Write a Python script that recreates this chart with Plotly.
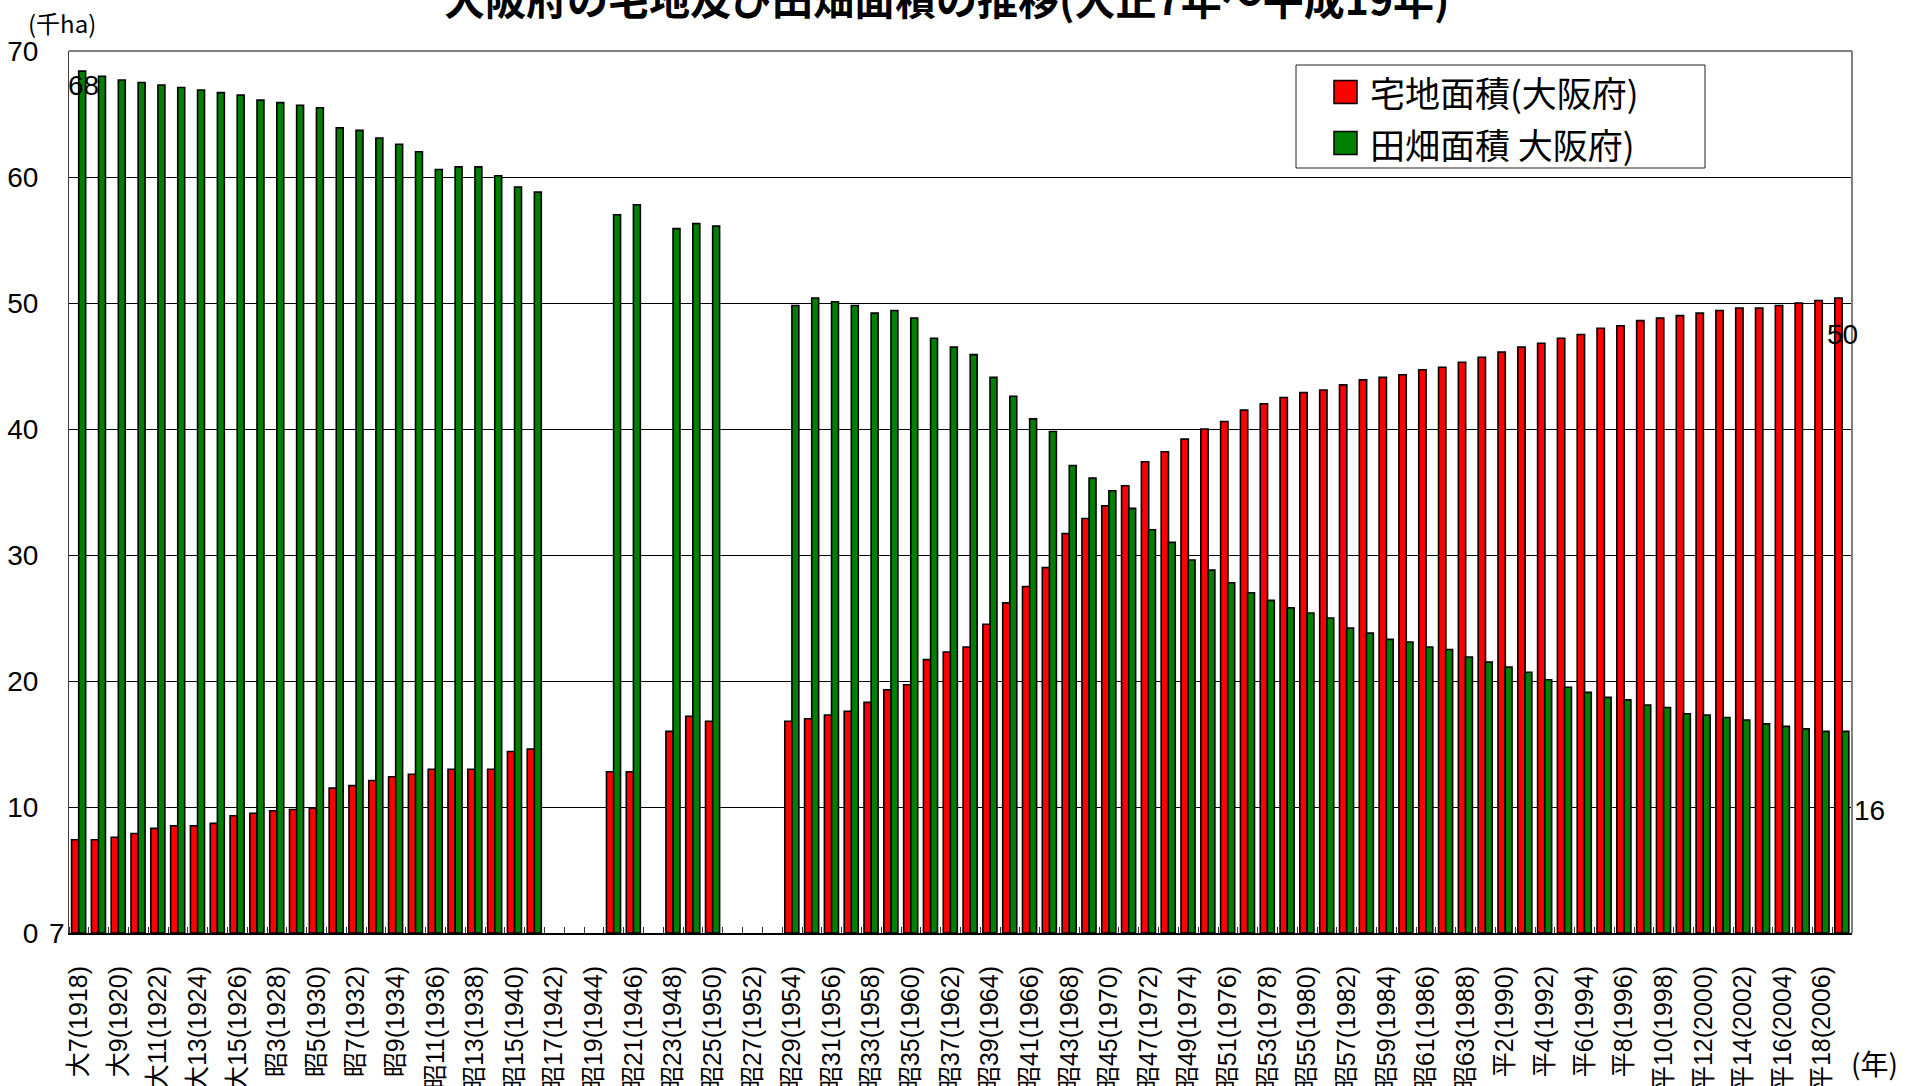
import plotly.graph_objects as go

# ---- data ----
years = [1918, 1919, 1920, 1921, 1922, 1923, 1924, 1925, 1926, 1927, 1928, 1929,
         1930, 1931, 1932, 1933, 1934, 1935, 1936, 1937, 1938, 1939, 1940, 1941,
         1945, 1946, 1948, 1949, 1950,
         1954, 1955, 1956, 1957, 1958, 1959, 1960, 1961, 1962, 1963, 1964, 1965,
         1966, 1967, 1968, 1969, 1970, 1971, 1972, 1973, 1974, 1975, 1976, 1977,
         1978, 1979, 1980, 1981, 1982, 1983, 1984, 1985, 1986, 1987, 1988, 1989,
         1990, 1991, 1992, 1993, 1994, 1995, 1996, 1997, 1998, 1999, 2000, 2001,
         2002, 2003, 2004, 2005, 2006, 2007]

# 宅地面積 (千ha)
housing = [7.4, 7.4, 7.6, 7.9, 8.3, 8.5, 8.5, 8.7, 9.3, 9.5, 9.7, 9.8,
           9.9, 11.5, 11.7, 12.1, 12.4, 12.6, 13.0, 13.0, 13.0, 13.0, 14.4, 14.6,
           12.8, 12.8, 16.0, 17.2, 16.8,
           16.8, 17.0, 17.3, 17.6, 18.3, 19.3, 19.7, 21.7, 22.3, 22.7, 24.5, 26.2,
           27.5, 29.0, 31.7, 32.9, 33.9, 35.5, 37.4, 38.2, 39.2, 40.0, 40.6, 41.5,
           42.0, 42.5, 42.9, 43.1, 43.5, 43.9, 44.1, 44.3, 44.7, 44.9, 45.3, 45.7,
           46.1, 46.5, 46.8, 47.2, 47.5, 48.0, 48.2, 48.6, 48.8, 49.0, 49.2, 49.4,
           49.6, 49.6, 49.8, 50.0, 50.2, 50.4]

# 田畑面積 (千ha)
farmland = [68.4, 68.0, 67.7, 67.5, 67.3, 67.1, 66.9, 66.7, 66.5, 66.1, 65.9, 65.7,
            65.5, 63.9, 63.7, 63.1, 62.6, 62.0, 60.6, 60.8, 60.8, 60.1, 59.2, 58.8,
            57.0, 57.8, 55.9, 56.3, 56.1,
            49.8, 50.4, 50.1, 49.8, 49.2, 49.4, 48.8, 47.2, 46.5, 45.9, 44.1, 42.6,
            40.8, 39.8, 37.1, 36.1, 35.1, 33.7, 32.0, 31.0, 29.6, 28.8, 27.8, 27.0,
            26.4, 25.8, 25.4, 25.0, 24.2, 23.8, 23.3, 23.1, 22.7, 22.5, 21.9, 21.5,
            21.1, 20.7, 20.1, 19.5, 19.1, 18.7, 18.5, 18.1, 17.9, 17.4, 17.3, 17.1,
            16.9, 16.6, 16.4, 16.2, 16.0, 16.0]

tick_years = [1918, 1920, 1922, 1924, 1926, 1928, 1930, 1932, 1934, 1936, 1938,
              1940, 1942, 1944, 1946, 1948, 1950, 1952, 1954, 1956, 1958, 1960,
              1962, 1964, 1966, 1968, 1970, 1972, 1974, 1976, 1978, 1980, 1982,
              1984, 1986, 1988, 1990, 1992, 1994, 1996, 1998, 2000, 2002, 2004, 2006]
tick_labels = ["大7(1918)", "大9(1920)", "大11(1922)", "大13(1924)", "大15(1926)",
               "昭3(1928)", "昭5(1930)", "昭7(1932)", "昭9(1934)", "昭11(1936)",
               "昭13(1938)", "昭15(1940)", "昭17(1942)", "昭19(1944)", "昭21(1946)",
               "昭23(1948)", "昭25(1950)", "昭27(1952)", "昭29(1954)", "昭31(1956)",
               "昭33(1958)", "昭35(1960)", "昭37(1962)", "昭39(1964)", "昭41(1966)",
               "昭43(1968)", "昭45(1970)", "昭47(1972)", "昭49(1974)", "昭51(1976)",
               "昭53(1978)", "昭55(1980)", "昭57(1982)", "昭59(1984)", "昭61(1986)",
               "昭63(1988)", "平2(1990)", "平4(1992)", "平6(1994)", "平8(1996)",
               "平10(1998)", "平12(2000)", "平14(2002)", "平16(2004)", "平18(2006)"]

title_text = "大阪府の宅地及び田畑面積の推移(大正7年～平成19年)"
series_names = ["宅地面積(大阪府)", "田畑面積 大阪府)"]

# ---- style ----
RED = "#FF0000"
GREEN = "#008000"
SANS = "Liberation Sans, Noto Sans CJK JP, sans-serif"
NARROW = "Liberation Sans Narrow, Arial Narrow, Liberation Sans, sans-serif"
CJK = "Noto Sans CJK JP, sans-serif"
colors = [RED, GREEN]

W, H = 1916, 1086
ML, MR, MT, MB = 69, 64, 51, 153
PW, PH = W - ML - MR, H - MT - MB


def px_x(p):
    return (p - ML) / PW


def px_y(p):
    return 1 - (p - MT) / PH


fig = go.Figure()
fig.add_trace(go.Bar(
    x=years, y=housing, name=series_names[0], showlegend=False,
    marker=dict(color=RED, line=dict(color="black", width=1.6)),
    width=0.37, offset=-0.37,
))
fig.add_trace(go.Bar(
    x=years, y=farmland, name=series_names[1], showlegend=False,
    marker=dict(color=GREEN, line=dict(color="black", width=1.6)),
    width=0.35, offset=-0.01,
))

fig.update_layout(
    width=W, height=H,
    margin=dict(l=ML, r=MR, t=MT, b=MB, autoexpand=False),
    paper_bgcolor="white", plot_bgcolor="white",
    barmode="overlay",
    font=dict(family=SANS, color="black"),
    showlegend=False,
    xaxis=dict(range=[1917.5, 2007.5], tickmode="array", tickvals=tick_years,
               ticktext=tick_labels, tickangle=-90, ticks="",
               showline=True, linecolor="black", linewidth=2,
               showgrid=False, zeroline=False, automargin=False,
               tickfont=dict(size=25, family=SANS, color="black"),
               ticklabelstandoff=21,
               minor=dict(tick0=1917.5, dtick=1, ticks="inside", ticklen=6,
                          tickcolor="#333333", tickwidth=1, showgrid=False)),
    yaxis=dict(range=[0, 70], tick0=0, dtick=10, showgrid=True,
               gridcolor="black", gridwidth=1, showline=True,
               linecolor="#404040", linewidth=1, ticks="", zeroline=False,
               automargin=False,
               tickfont=dict(size=28, family=NARROW, color="black"),
               ticklabelstandoff=24),
)

# plot-area border (top and right, gray)
fig.add_shape(type="line", xref="paper", yref="paper", x0=0, x1=1, y0=1, y1=1,
              line=dict(color="#808080", width=2))
fig.add_shape(type="line", xref="paper", yref="paper", x0=1, x1=1, y0=0, y1=1,
              line=dict(color="#808080", width=2))

# legend box (drawn by hand to match the reference proportions)
fig.add_shape(type="rect", xref="paper", yref="paper",
              x0=px_x(1296), x1=px_x(1705), y0=px_y(168), y1=px_y(65),
              line=dict(color="#202020", width=1), fillcolor="white", layer="above")
for i, (name, col) in enumerate(zip(series_names, colors)):
    cy = 92 + 51 * i
    fig.add_shape(type="rect", xref="paper", yref="paper",
                  x0=px_x(1334), x1=px_x(1357), y0=px_y(cy + 11.5), y1=px_y(cy - 11.5),
                  line=dict(color="black", width=1.5), fillcolor=col, layer="above")
    fig.add_annotation(text=name, xref="paper", yref="paper",
                       x=px_x(1369), y=px_y(cy), xanchor="left", yanchor="middle",
                       showarrow=False, borderpad=0,
                       font=dict(size=35, family=CJK, color="black"))

# title (partly cut at the top, as in the reference)
fig.add_annotation(text="<b>" + title_text + "</b>", xref="paper", yref="paper",
                   x=0.4925, y=1, xanchor="center", yanchor="bottom", yshift=22,
                   showarrow=False, font=dict(size=41, family=CJK, color="black"))

# axis unit labels
fig.add_annotation(text="(千ha)", xref="paper", yref="paper", x=0, y=1,
                   xanchor="center", yanchor="middle", xshift=-7, yshift=29,
                   showarrow=False, font=dict(size=24, family=CJK, color="black"))
fig.add_annotation(text="(年)", xref="paper", yref="paper", x=1, y=0,
                   xanchor="center", yanchor="middle", xshift=22, yshift=-130,
                   showarrow=False, font=dict(size=28, family=CJK, color="black"))

# data labels (first and last values)
lab_font = dict(size=28, family=NARROW, color="black")
fig.add_annotation(x=years[0], y=farmland[0], text=f"{farmland[0]:.0f}",
                   xshift=5, yshift=-14, showarrow=False, font=lab_font)
fig.add_annotation(x=years[0], y=housing[0], text=f"{housing[0]:.0f}",
                   xshift=-22, yshift=-94, showarrow=False, font=lab_font)
fig.add_annotation(x=years[-1], y=housing[-1], text=f"{housing[-1]:.0f}",
                   xshift=0, yshift=-37, showarrow=False, font=lab_font)
fig.add_annotation(x=years[-1], y=farmland[-1], text=f"{farmland[-1]:.0f}",
                   xshift=27, yshift=-79, showarrow=False, font=lab_font)

fig.write_html("out.html", config={"displayModeBar": False},
               post_script="document.body.style.margin='0';document.body.style.overflow='hidden';")
